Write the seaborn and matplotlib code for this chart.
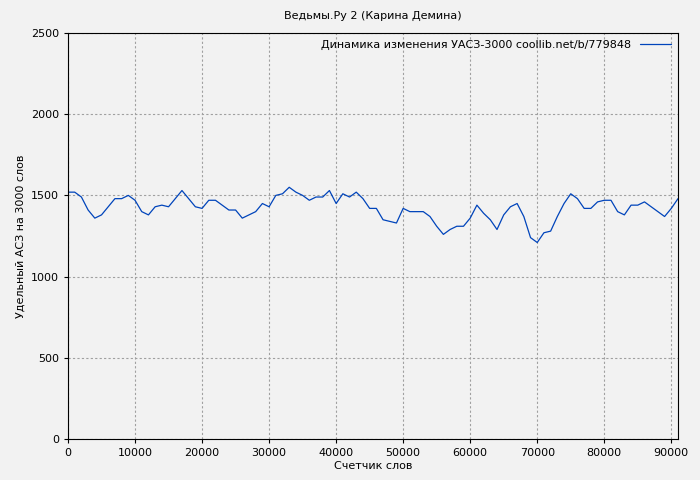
import matplotlib
matplotlib.use("Agg")
import matplotlib.pyplot as plt
import seaborn as sns
import pandas as pd

words = list(range(0, 92000, 1000))
values = [1520,1520,1490,1410,1360,1380,1430,1480,1480,1500,1470,1400,1380,1430,1440,1430,
          1480,1530,1480,1430,1420,1470,1470,1440,1410,1410,1360,1380,1400,1450,1430,1500,
          1510,1550,1520,1500,1470,1490,1490,1530,1450,1510,1490,1520,1480,1420,1420,1350,
          1340,1330,1420,1400,1400,1400,1370,1310,1260,1290,1310,1310,1360,1440,1390,1350,
          1290,1380,1430,1450,1370,1240,1210,1270,1280,1370,1450,1510,1480,1420,1420,1460,
          1470,1470,1400,1380,1440,1440,1460,1430,1400,1370,1420,1480]
label = "Динамика изменения УАСЗ-3000 coollib.net/b/779848"
df = pd.DataFrame({"x": words, "y": values})

sns.set_style("ticks")
plt.rcParams['font.family'] = ['DejaVu Sans']
plt.rcParams['text.color'] = 'black'
fig = plt.figure(figsize=(7, 4.8), dpi=100, facecolor="#f2f2f2")
ax = fig.add_axes([68/700, 41/480, 610/700, 406/480])
ax.set_facecolor("#f2f2f2")
sns.lineplot(data=df, x="x", y="y", ax=ax, color="#0044bb", linewidth=0.9, label=label)
ax.set_xlim(0, 91000)
ax.set_ylim(0, 2500)
ax.set_xticks(range(0, 91000, 10000))
ax.set_yticks(range(0, 2501, 500))
ax.grid(True, color="#a0a0a0", linestyle=(0, (2, 2)), linewidth=0.8)
for s in ["top", "right", "left", "bottom"]:
    ax.spines[s].set_color("black")
ax.tick_params(labelsize=8, length=3, colors="black")
ax.set_title("Ведьмы.Ру 2 (Карина Демина)", fontsize=8, pad=10, color="black")
ax.set_xlabel("Счетчик слов", fontsize=8, labelpad=2, color="black")
ax.set_ylabel("Удельный АСЗ на 3000 слов", fontsize=8, color="black")
leg = ax.legend(loc="upper right", frameon=False, markerfirst=False, fontsize=8,
          handlelength=2.8, borderaxespad=0.2)
for t in leg.get_texts():
    t.set_color("black")
fig.savefig("out.png", dpi=100, facecolor=fig.get_facecolor())
